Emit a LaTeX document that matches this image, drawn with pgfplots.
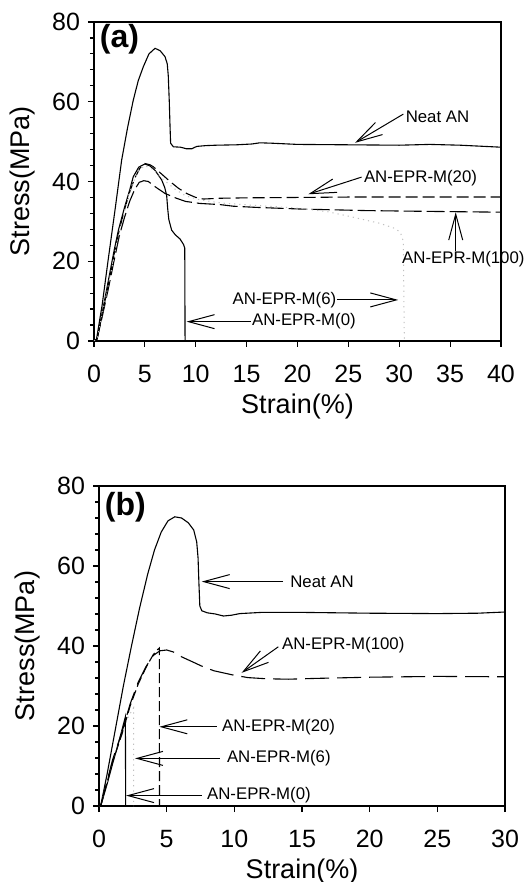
\documentclass[border=0pt]{standalone}
\usepackage{pgfplots}
\pgfplotsset{compat=1.18}
\usepackage{fontspec}
\setmainfont{Liberation Sans}
\usetikzlibrary{arrows.meta}
\tikzset{
  ln/.style={line width=0.55pt, black},
  arr/.style={line width=0.5pt, -{Straight Barb[length=13pt,width=7pt,line width=0.5pt]}},
  ann/.style={font=\fontsize{8.4}{10}\selectfont, inner sep=0pt},
}
\pgfplotsset{
  myax/.style={
    scale only axis,
    axis line style={line width=0.6pt},
    every tick/.style={line width=0.6pt, black},
    tick align=outside,
    major tick length=3pt,
    minor tick length=2pt,
    xtick pos=bottom, ytick pos=left,
    ymin=0, ymax=80, ytick={0,20,40,60,80},
    minor y tick num=4,
    xmin=0,
    tick label style={font=\fontsize{12.5}{14}\selectfont},
    xticklabel style={yshift=-5.5pt},
    yticklabel style={xshift=-0.5pt},
    label style={font=\fontsize{13.5}{16}\selectfont},
    /pgf/number format/assume math mode=true,
    clip mode=individual,
  },
}
\begin{document}
\begin{tikzpicture}
\useasboundingbox (0,0) rectangle (264pt,441pt);
% ---------------- panel (a)
\begin{axis}[myax, anchor=south west, at={(47pt,270.5pt)},
  width=203.5pt, height=159.5pt, xmax=40, xtick={0,5,...,40},
  xlabel={Strain(\%)}, ylabel={Stress(MPa)},
  xlabel style={at={(axis description cs:0.5,-0.205)}, anchor=center},
  ylabel style={at={(axis description cs:-0.1745,0.5)}, anchor=center}]
% Neat AN
\addplot[ln] coordinates {(0,0) (0.25,0.5) (0.8,9) (1.4,20.5) (2.1,33.5) (2.72,45.4) (3.3,53.5) (3.86,60.4) (4.35,65.3) (4.85,68.8) (5.4,72) (6.0,73.4) (6.5,72.8) (6.98,71.3) (7.2,69.5) (7.3,66.5) (7.4,60) (7.47,54) (7.53,49.6) (7.8,48.7) (8.5,48.6) (9.1,48.2) (9.6,48.2) (10.1,48.8) (11,49.0) (12,49.1) (14,49.2) (15.5,49.4) (16.3,49.7) (17.5,49.6) (20,49.3) (25,49.2) (30,49.1) (33,49.3) (36,49.1) (40,48.6)};
% AN-EPR-M(0)
\addplot[ln] coordinates {(0,0) (0.3,0.5) (0.8,7) (1.4,15) (2.0,23) (2.4,27.8) (3.0,33.5) (3.5,37.8) (3.86,41.2) (4.4,43.6) (5.0,44.4) (5.5,43.9) (6.0,42.8) (6.65,40.4) (6.95,38.5) (7.14,36.5) (7.25,33) (7.35,30.5) (7.63,27.8) (8.0,26.6) (8.45,25.6) (8.8,24.2) (8.92,23.3) (8.95,0)};
% AN-EPR-M(20)
\addplot[ln, dash pattern=on 6pt off 2.5pt] coordinates {(0,0) (0.3,0.5) (0.8,6.5) (1.4,14) (2.0,22) (2.5,28) (3.0,33) (3.5,37.3) (4.0,40.8) (4.5,43.3) (5.0,44.5) (5.5,44.2) (5.83,43.7) (6.5,42.2) (7.47,40.0) (8.3,38.3) (9.1,37.0) (10.0,36.0) (10.74,35.6) (12.4,35.8) (15,35.9) (20,36.0) (25,36.1) (30,36.1) (35,36.1) (40,36.1)};
% AN-EPR-M(100)
\addplot[ln, dash pattern=on 9pt off 2.5pt] coordinates {(0,0) (0.3,0.5) (0.8,6) (1.4,13) (2.0,20.5) (2.5,26.5) (3.0,31) (3.5,35) (4.0,38) (4.45,39.8) (4.9,40.2) (5.34,40.0) (6.0,38.7) (6.98,37.0) (8.1,35.8) (9.0,35.0) (10.4,34.5) (12.4,34.2) (13.7,33.8) (16,33.5) (20.2,33.1) (26.8,32.7) (33,32.5) (40,32.3)};
% AN-EPR-M(6)
\addplot[line width=0.5pt, black!25, dash pattern=on 0.6pt off 2pt] coordinates {(0,0) (0.3,0.5) (1.4,14) (2.5,27.5) (3.5,37.5) (4.3,42.5) (5.0,44) (5.8,43) (6.8,40.5) (8,38) (9,36.4) (10.4,35.4) (12.5,34.6) (15.3,34.1) (20.2,33.3) (23,32.4) (25.2,31.2) (28.1,29.5) (29.5,28.3) (30.1,27.3) (30.4,25) (30.5,0)};
% annotations
\node[font=\bfseries\fontsize{16}{18}\selectfont] at (axis cs:2.5,75.8) {(a)};
\node[ann, anchor=west] at (axis cs:30.6,56.3) {Neat AN};
\draw[arr] (axis cs:30.4,56.9) -- (axis cs:25.65,49.7);
\node[ann] at (axis cs:36.3,20.5) {AN-EPR-M(100)};
\draw[arr] (axis cs:35.55,22.6) -- (axis cs:35.55,32.3);
\node[ann, anchor=west] at (axis cs:26.5,40.8) {AN-EPR-M(20)};
\draw[arr] (axis cs:26.3,41.1) -- (axis cs:21.06,36.8);
\node[ann, anchor=east] at (axis cs:23.85,10.3) {AN-EPR-M(6)};
\draw[arr] (axis cs:23.85,10.3) -- (axis cs:29.9,10.3);
\node[ann, anchor=west] at (axis cs:15.5,4.85) {AN-EPR-M(0)};
\draw[arr] (axis cs:15.4,4.85) -- (axis cs:9.1,4.85);
\end{axis}
% ---------------- panel (b)
\begin{axis}[myax, anchor=south west, at={(49.5pt,38pt)},
  width=203pt, height=160pt, xmax=30, xtick={0,5,...,30},
  xlabel={Strain(\%)}, ylabel={Stress(MPa)},
  xlabel style={at={(axis description cs:0.5,-0.205)}, anchor=center},
  ylabel style={at={(axis description cs:-0.175,0.5)}, anchor=center}]
% Neat AN
\addplot[ln] coordinates {(0,0) (0.15,0.5) (0.6,8) (1.2,19) (1.8,30) (2.4,40) (3.0,49.5) (3.6,58) (4.1,64) (4.6,68.5) (5.1,71.3) (5.6,72.3) (6.1,72) (6.6,70.8) (7.0,69) (7.22,66) (7.32,62) (7.38,56) (7.45,50) (7.6,48.8) (8.0,48.3) (8.6,48.0) (9.2,47.5) (9.8,47.7) (10.4,48.1) (12,48.4) (15,48.4) (20,48.2) (25,48.1) (28,48.2) (30,48.5)};
% AN-EPR-M(0)
\addplot[ln] coordinates {(0,0) (0.15,0.3) (0.6,5.5) (1.0,10.5) (1.5,16.5) (1.95,22.3) (1.97,0)};
% AN-EPR-M(6)
\addplot[line width=0.5pt, black!25, dash pattern=on 0.6pt off 2pt] coordinates {(0,0) (0.15,0.3) (1.0,11.5) (1.7,18.5) (2.2,22.5) (2.55,24.5) (2.56,0)};
% AN-EPR-M(20)
\addplot[ln, dash pattern=on 5pt off 2pt] coordinates {(0,0) (0.15,0.3) (1.0,11) (1.7,18) (2.3,25) (2.9,30.5) (3.5,34.8) (4.0,37.8) (4.3,39) (4.46,39.5) (4.47,0)};
% AN-EPR-M(100)
\addplot[ln, dash pattern=on 12pt off 4pt] coordinates {(0,0) (0.15,0.3) (1.0,11.5) (1.7,18.5) (2.3,25.5) (2.9,31) (3.5,35) (4.0,37.6) (4.5,38.8) (5.0,39.0) (5.5,38.5) (6.1,37.3) (7.0,35.9) (7.7,34.8) (8.5,33.8) (9.9,32.75) (11,32.1) (12.4,31.8) (14,31.7) (16,31.9) (20,32.2) (25,32.4) (30,32.3)};
% annotations
\node[font=\bfseries\fontsize{16}{18}\selectfont] at (axis cs:1.95,74.8) {(b)};
\node[ann, anchor=west] at (axis cs:14.11,56.1) {Neat AN};
\draw[arr] (axis cs:13.6,56.1) -- (axis cs:7.59,56.1);
\node[ann, anchor=west] at (axis cs:13.5,40.25) {AN-EPR-M(100)};
\draw[arr] (axis cs:13.25,39.8) -- (axis cs:10.54,33.3);
\node[ann, anchor=west] at (axis cs:9.07,19.8) {AN-EPR-M(20)};
\draw[arr] (axis cs:8.7,19.8) -- (axis cs:4.46,19.8);
\node[ann, anchor=west] at (axis cs:9.43,11.9) {AN-EPR-M(6)};
\draw[arr] (axis cs:8.94,11.9) -- (axis cs:2.66,11.9);
\node[ann, anchor=west] at (axis cs:7.96,2.6) {AN-EPR-M(0)};
\draw[arr] (axis cs:7.59,2.6) -- (axis cs:2.0,2.6);
\end{axis}
\end{tikzpicture}
\end{document}
